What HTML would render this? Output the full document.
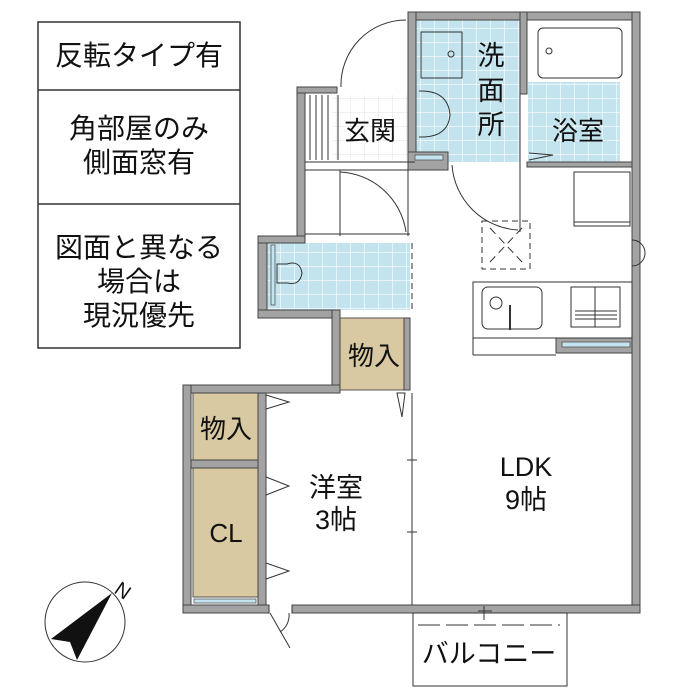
<!DOCTYPE html>
<html><head><meta charset="utf-8"><style>
html,body{margin:0;padding:0;background:#fff}
svg{display:block}
text{font-family:"Liberation Sans","Noto Sans CJK JP",sans-serif;fill:#111}
</style></head><body>
<svg width="700" height="700" viewBox="0 0 700 700" xmlns="http://www.w3.org/2000/svg">
<defs>
<pattern id="tile" width="14" height="14" patternUnits="userSpaceOnUse">
<rect width="14" height="14" fill="#c3e4ee"/>
<path d="M0 0H14M0 0V14" stroke="#fff" stroke-width="1.2"/>
</pattern>
<pattern id="wtile" width="14" height="14" patternUnits="userSpaceOnUse">
<rect width="14" height="14" fill="#fff"/>
<path d="M0 0H14M0 0V14" stroke="#e2e2e2" stroke-width="1"/>
</pattern>
</defs>

<g fill="none" stroke="#333" stroke-width="1.5">
<rect x="38" y="22" width="202" height="326"/>
<line x1="38" y1="90" x2="240" y2="90"/>
<line x1="38" y1="204" x2="240" y2="204"/>
</g>
<text x="139" y="65" font-size="28" text-anchor="middle">反転タイプ有</text>
<text x="139" y="138" font-size="28" text-anchor="middle">角部屋のみ</text>
<text x="139" y="172" font-size="28" text-anchor="middle">側面窓有</text>
<text x="139" y="257" font-size="28" text-anchor="middle">図面と異なる</text>
<text x="139" y="291" font-size="28" text-anchor="middle">場合は</text>
<text x="139" y="325" font-size="28" text-anchor="middle">現況優先</text>

<rect x="415" y="20" width="105" height="142" fill="url(#tile)"/>
<rect x="528" y="82" width="92" height="80" fill="url(#tile)"/>
<rect x="332" y="95" width="76" height="65" fill="url(#wtile)"/>
<rect x="267" y="243" width="143" height="67" fill="url(#tile)"/>
<rect x="340" y="318" width="68" height="72" fill="#d8c9a3" stroke="#555"/>
<rect x="193" y="393" width="65" height="67" fill="#d8c9a3" stroke="#555"/>
<rect x="193" y="468" width="65" height="129" fill="#d8c9a3" stroke="#555"/>

<g fill="#a3a3a3" stroke="#444" stroke-width="1">
<rect x="408" y="12" width="232" height="8"/>
<rect x="408" y="12" width="8" height="158"/>
<rect x="632" y="12" width="8" height="601"/>
<rect x="520" y="12" width="7" height="82"/>
<rect x="527" y="162" width="105" height="5"/>
<rect x="297" y="87" width="8" height="153"/>
<rect x="297" y="87" width="40" height="6"/>
<rect x="408" y="152" width="40" height="18"/>
<rect x="258" y="236" width="9" height="82"/>
<rect x="258" y="236" width="47" height="7"/>
<rect x="258" y="310" width="80" height="8"/>
<rect x="332" y="310" width="8" height="83"/>
<rect x="183" y="385" width="157" height="8"/>
<rect x="183" y="385" width="8" height="228"/>
<rect x="191" y="460" width="67" height="8"/>
<rect x="258" y="393" width="8" height="212"/>
<rect x="183" y="605" width="86" height="8"/>
<rect x="292" y="605" width="348" height="8"/>
<rect x="404" y="318" width="6" height="72"/>
<rect x="556" y="338" width="76" height="15"/>
</g>
<g fill="#c3e4ee" stroke="#555" stroke-width="0.8">
<rect x="415" y="155" width="28" height="5"/>
<rect x="194" y="599" width="62" height="4"/>
<rect x="562" y="342" width="68" height="5"/>
<rect x="271" y="245" width="4" height="60"/>
</g>

<g fill="none" stroke="#333" stroke-width="1">
<line x1="305" y1="162" x2="415" y2="162"/>
<line x1="305" y1="170" x2="408" y2="170"/>
<line x1="340" y1="170" x2="340" y2="236"/>
<line x1="305" y1="234" x2="410" y2="234"/>
<path d="M340 172 A70 70 0 0 1 406 232"/>
<path d="M406 20 A65 65 0 0 0 341 87"/>
<path d="M452 165 A70 70 0 0 0 518 230"/>
<line x1="520" y1="94" x2="520" y2="232"/>
<line x1="408" y1="170" x2="408" y2="236"/>
<line x1="412" y1="243" x2="412" y2="310" stroke-dasharray="6 4"/>
<line x1="412" y1="393" x2="412" y2="605"/>
<line x1="338" y1="95" x2="338" y2="160"/>
<line x1="310" y1="95" x2="310" y2="160"/><line x1="316" y1="95" x2="316" y2="160"/><line x1="322" y1="95" x2="322" y2="160"/><line x1="328" y1="95" x2="328" y2="160"/>
<rect x="421" y="32" width="41" height="46"/>
<circle cx="451" cy="54" r="3"/>
<path d="M419 91 Q448 90 450 115 Q448 138 419 137"/>
<rect x="538" y="28" width="84" height="50" rx="5"/>
<circle cx="549" cy="51" r="3"/>
<path d="M529 153 L553 155 L529 160"/>
<rect x="574" y="172" width="56" height="54"/>
<line x1="574" y1="222" x2="630" y2="222"/>
<rect x="482" y="221" width="48" height="48" stroke-dasharray="6 4"/>
<path d="M490 228 L522 262 M522 228 L490 262" stroke-dasharray="8 5"/>
<rect x="473" y="282" width="159" height="56"/>
<line x1="473" y1="355" x2="556" y2="355"/>
<line x1="473" y1="338" x2="473" y2="355"/>
<rect x="482" y="287" width="60" height="42" rx="6"/>
<circle cx="496" cy="303" r="6"/>
<line x1="510" y1="305" x2="510" y2="330" stroke-width="2"/>
<rect x="571" y="287" width="49" height="40"/>
<path d="M575 311H617M575 315H617M575 319H617M595 287V327"/>
<path d="M632 240 A12 12 0 0 1 632 266"/>
<path d="M277 264 L287 264 Q300 260 302 273 Q300 286 287 283 L277 283Z"/>
<path d="M266 395 L289 402 L266 409 M266 477 L289 486 L266 495 M266 563 L289 571 L266 579"/>
<path d="M397 393 L405 393 L402 417Z"/>
<line x1="407" y1="460" x2="417" y2="460"/><line x1="407" y1="532" x2="417" y2="532"/>
<line x1="269" y1="605" x2="269" y2="613"/><line x1="292" y1="605" x2="292" y2="613"/>
<path d="M289 613 A20 20 0 0 1 280 632 M270 613 L290 648"/>
<rect x="413" y="613" width="154" height="73"/>
<line x1="418" y1="625" x2="560" y2="625" stroke-dasharray="22 6"/>
<line x1="484" y1="606" x2="484" y2="620"/><line x1="478" y1="611" x2="492" y2="611"/>
<ellipse cx="85" cy="622" rx="40" ry="40"/>
</g>
<path d="M112 593 L77 660 L70 642 L51 639Z" fill="#111"/>
<text x="113" y="592" font-size="20" transform="rotate(35 113 592)">N</text>

<text x="370" y="140" font-size="26" text-anchor="middle">玄関</text>
<text x="491" y="65" font-size="27" text-anchor="middle">洗</text>
<text x="491" y="100" font-size="27" text-anchor="middle">面</text>
<text x="491" y="134" font-size="27" text-anchor="middle">所</text>
<text x="578" y="140" font-size="26" text-anchor="middle">浴室</text>
<text x="374" y="365" font-size="26" text-anchor="middle">物入</text>
<text x="226" y="438" font-size="26" text-anchor="middle">物入</text>
<text x="226" y="542" font-size="26" text-anchor="middle">CL</text>
<text x="336" y="497" font-size="27" text-anchor="middle">洋室</text>
<text x="336" y="529" font-size="27" text-anchor="middle">3帖</text>
<text x="526" y="476" font-size="27" text-anchor="middle">LDK</text>
<text x="526" y="509" font-size="27" text-anchor="middle">9帖</text>
<text x="489" y="663" font-size="27" text-anchor="middle">バルコニー</text>
</svg>
</body></html>
